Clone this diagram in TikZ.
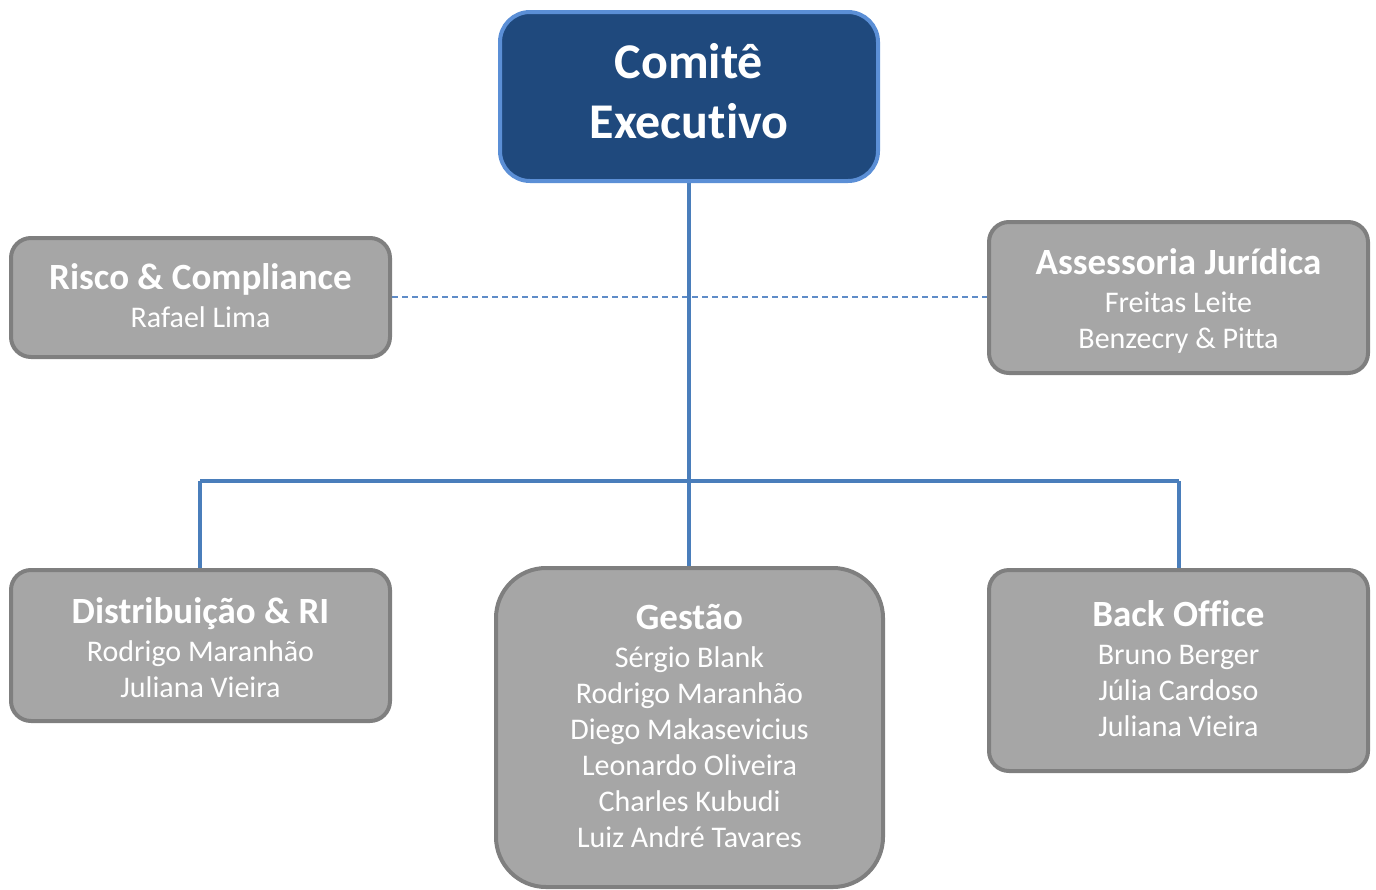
\documentclass[tikz,border=0pt]{standalone}
\usepackage{fontspec}
\setmainfont{Carlito}[RawFeature={-liga;-clig;-dlig}]
\usetikzlibrary{backgrounds}
\definecolor{navy}{HTML}{1F497D}
\definecolor{navyborder}{HTML}{5B8FD6}
\definecolor{conn}{HTML}{4A7EBB}
\definecolor{boxfill}{HTML}{A6A6A6}
\definecolor{boxborder}{HTML}{7F7F7F}
\definecolor{dashc}{HTML}{5F8CC8}
\tikzset{
  graybox/.style={draw=boxborder, fill=boxfill, line width=4pt, rounded corners=20pt, inner sep=0pt},
  topbox/.style={draw=navyborder, fill=navy, line width=4pt, rounded corners=30pt, inner sep=0pt},
  graytext/.style={text=white, align=center, inner sep=0pt, font=\fontsize{30}{36}\selectfont},
  toptext/.style={text=white, align=center, inner sep=0pt, font=\fontsize{50}{60}\selectfont\bfseries},
  conn/.style={draw=conn, line width=4pt},
  dashconn/.style={draw=dashc, line width=1.5pt, dash pattern=on 6pt off 4pt},
}
\newcommand{\ttl}[1]{{\fontsize{37}{36}\selectfont\bfseries #1}\\[2pt]}
\begin{document}
\begin{tikzpicture}[x=1pt,y=1pt]
\useasboundingbox (0,0) rectangle (1376,-889);
\clip (0,0) rectangle (1376,-889);
\coordinate (hl) at (200,-481);
\coordinate (hr) at (1179,-481);
\node[topbox, minimum width=378pt, minimum height=169pt] (top) at (689,-96.5) {};
\node[toptext] (top-t) at ([yshift=5pt]top.center) {Comitê\\Executivo};
\node[graybox, minimum width=379pt, minimum height=119pt] (risco) at (200.5,-297.5) {};
\node[graytext] (risco-t) at ([yshift=1.5pt]risco.center) {\ttl{Risco \& Compliance}Rafael Lima};
\node[graybox, minimum width=379pt, minimum height=151pt] (asses) at (1178.5,-297.5) {};
\node[graytext] (asses-t) at ([yshift=-3pt]asses.center) {\ttl{Assessoria Jurídica}Freitas Leite\\Benzecry \& Pitta};
\node[graybox, minimum width=379pt, minimum height=151pt] (distr) at (200.5,-645.5) {};
\node[graytext] (distr-t) at ([yshift=-2.5pt]distr.center) {\ttl{Distribuição \& RI}Rodrigo Maranhão\\Juliana Vieira};
\node[graybox, minimum width=387pt, minimum height=319pt, rounded corners=50pt] (gest) at (689.5,-727.5) {};
\node[graytext] (gest-t) at ([yshift=2pt]gest.center) {\ttl{Gestão}Sérgio Blank\\Rodrigo Maranhão\\Diego Makasevicius\\Leonardo Oliveira\\Charles Kubudi\\Luiz André Tavares};
\node[graybox, minimum width=379pt, minimum height=201pt] (back) at (1178.5,-670.5) {};
\node[graytext] (back-t) at ([yshift=2pt]back.center) {\ttl{Back Office}Bruno Berger\\Júlia Cardoso\\Juliana Vieira};
\begin{scope}[on background layer]
\draw[dashconn] (risco.east |- 0,-297) -- (asses.west |- 0,-297);
\draw[conn] (top.south) -- (top.south |- gest.north);
\draw[conn] (hl) -- (hr);
\draw[conn] (hl) -- (distr.north -| hl);
\draw[conn] (hr) -- (back.north -| hr);
\end{scope}
\end{tikzpicture}
\end{document}
